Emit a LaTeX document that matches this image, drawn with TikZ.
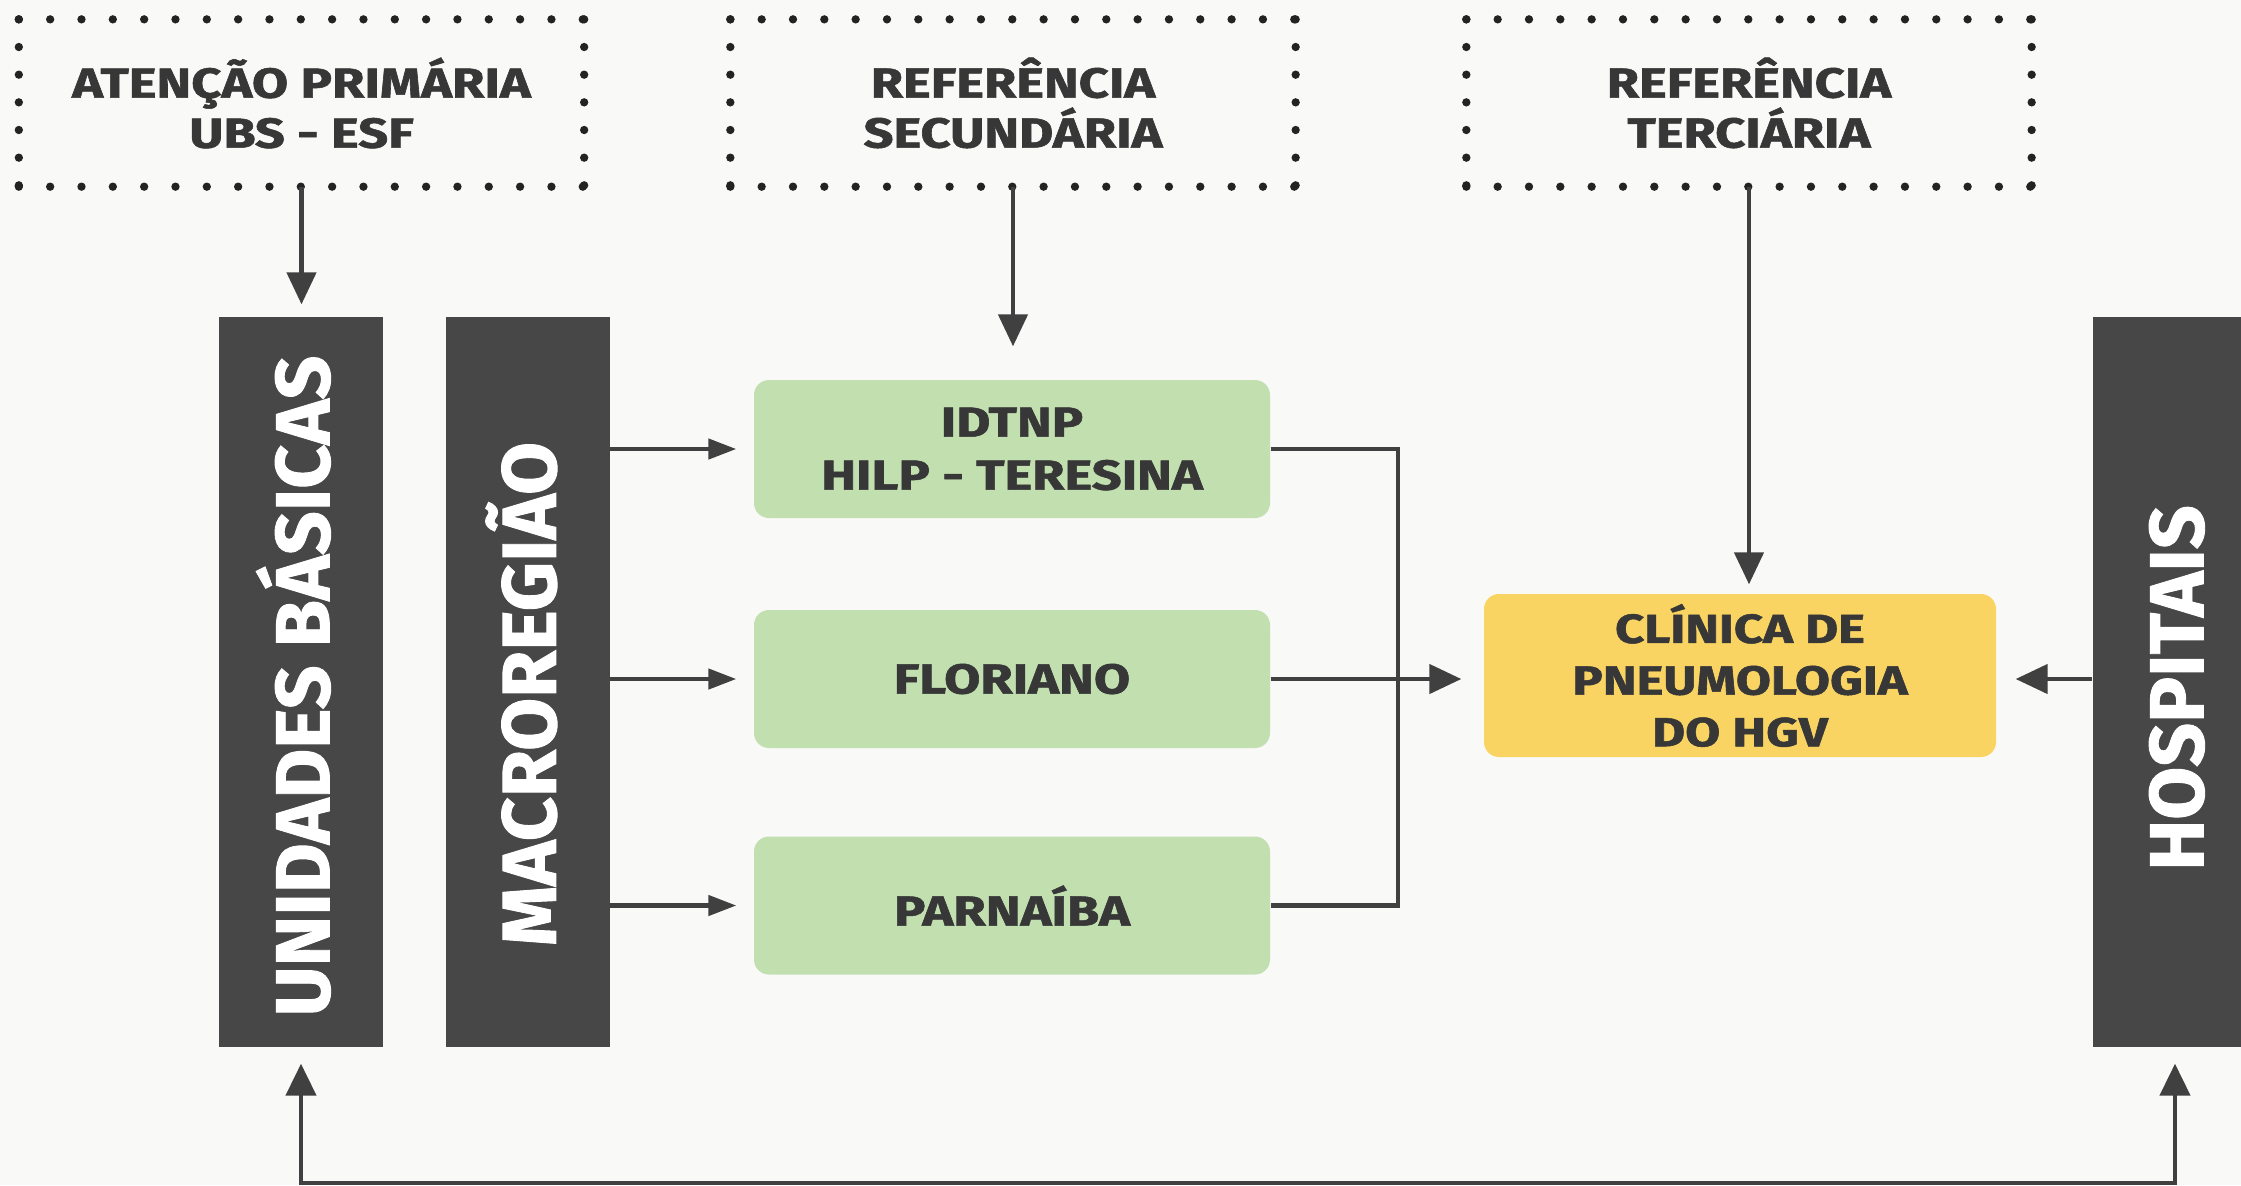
\documentclass[tikz,border=0pt]{standalone}
\usepackage{fontspec}
\usepackage{graphicx}
\setmainfont{Fira Sans}[BoldFeatures={FakeBold=1.2}]
\usetikzlibrary{arrows.meta,calc}
\definecolor{bg}{RGB}{249,249,248}
\definecolor{dark}{RGB}{71,71,71}
\definecolor{ink}{RGB}{55,55,55}
\definecolor{dotc}{RGB}{35,35,35}
\definecolor{arrowc}{RGB}{64,64,64}
\definecolor{grn}{RGB}{194,223,176}
\definecolor{ylw}{RGB}{249,212,99}
\newcommand{\hs}[1]{\scalebox{1.25}[1]{#1}}
\tikzset{
  dotbox/.style={minimum width=169.2pt, minimum height=49.8pt, inner sep=0pt, align=center, text=ink, font=\bfseries\fontsize{12.6}{15}\selectfont},
  bar/.style={fill=dark, minimum width=49.2pt, minimum height=219pt, inner sep=0pt},
  barlabel/.style={rotate=90, text=white, inner sep=0pt, text height=15.85pt, text depth=0pt, font=\bfseries\fontsize{23}{23}\selectfont},
  gbox/.style={fill=grn, rounded corners=4.5pt, minimum width=154.8pt, minimum height=41.4pt, inner sep=0pt, align=center, text=ink, font=\bfseries\fontsize{12.6}{15.9}\selectfont},
  ybox/.style={fill=ylw, rounded corners=4.5pt, minimum width=153.6pt, minimum height=48.9pt, inner sep=0pt, align=center, text=ink, font=\bfseries\fontsize{12.2}{15.5}\selectfont},
  conn/.style={draw=arrowc, line width=1.35pt},
  bigarr/.style={conn, -{Triangle[length=9.6pt,width=8.7pt]}},
  smallarr/.style={conn, -{Triangle[length=8.4pt,width=6pt]}},
  dots/.style={draw=dotc, line width=2.5pt, line cap=round}
}
\begin{document}
\begin{tikzpicture}[x=0.3pt,y=-0.3pt]
\useasboundingbox (0,0) rectangle (2241,1185);
\fill[bg] (0,0) rectangle (2241,1185);

% dotted header boxes
\node[dotbox] (b1) at (301.5,103) {\hs{ATENÇÃO PRIMÁRIA}\\\hs{UBS - ESF}};
\node[dotbox] (b2) at (1013,103) {\hs{REFERÊNCIA}\\\hs{SECUNDÁRIA}};
\node[dotbox] (b3) at (1749,103) {\hs{REFERÊNCIA}\\\hs{TERCIÁRIA}};
\foreach \b in {b1,b2,b3}{
  \draw[dots, dash pattern=on 0pt off 9.399pt] (\b.north west) -- (\b.north east) (\b.south west) -- (\b.south east);
  \draw[dots, dash pattern=on 0pt off 8.299pt] (\b.north west) -- (\b.south west) (\b.north east) -- (\b.south east);
}

% dark bars
\node[bar] (bar1) at (301,682) {};
\node[bar] (bar2) at (527.5,682) {};
\node[bar] (bar3) at (2175,682) {};
\node[barlabel] (t1) at ($(bar1)+(2,4)$) {UNIDADES BÁSICAS};
\node[barlabel] (t2) at ($(bar2)+(2,12)$) {MACROREGIÃO};
\node[barlabel] (t3) at ($(bar3)+(2,6)$) {HOSPITAIS};

% green and yellow boxes
\node[gbox] (g1) at (1012,449) {\hs{IDTNP}\\\hs{HILP - TERESINA}};
\node[gbox] (g2) at (1012,679) {\hs{FLORIANO}};
\node[gbox] (g3) at (1012,905.5) {\hs{PARNAÍBA}};
\node[ybox] (y1) at (1740,675.5) {\hs{CLÍNICA DE}\\\hs{PNEUMOLOGIA}\\\hs{DO HGV}};

% arrows from header boxes
\draw[bigarr, shorten >=3.6pt] (b1.south) -- (b1.south |- bar1.north);
\draw[bigarr, shorten >=9.9pt] (b2.south) -- (b2.south |- g1.north);
\draw[bigarr, shorten >=2.7pt] (b3.south) -- (b3.south |- y1.north);

% macroregion to green boxes
\foreach \g in {g1,g2,g3}
  \draw[smallarr, shorten >=5.1pt] (bar2.east |- \g.west) -- (\g.west);

% collector
\coordinate (jx) at (1398,0);
\draw[conn] (g1.east) -- (g1.east -| jx) -- (g3.east -| jx) -- (g3.east);
\draw[bigarr, shorten >=6.6pt] (g2.east) -- (g2.east -| y1.west);
\draw[bigarr, shorten >=5.7pt] (g2.east -| bar3.west) -- (g2.east -| y1.east);

% bottom loop
\coordinate (bot) at (0,1183);
\draw[conn, {Triangle[length=9.6pt,width=9pt]}-{Triangle[length=9.6pt,width=9pt]}, shorten <=4.8pt, shorten >=4.8pt]
  (bar1.south) -- (bar1.south |- bot) -- (bar3.south |- bot) -- (bar3.south);
\end{tikzpicture}
\end{document}
